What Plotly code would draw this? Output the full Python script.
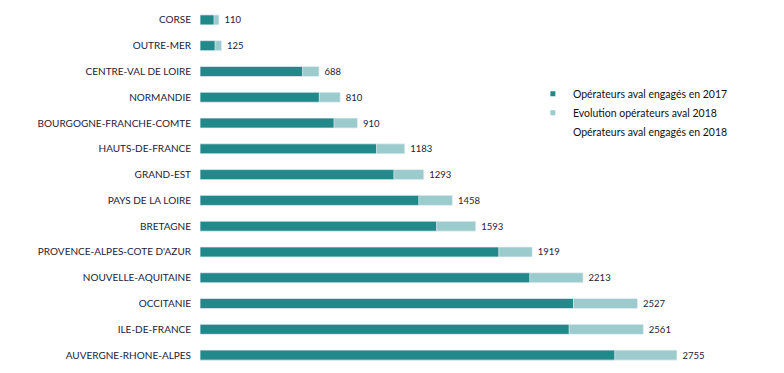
import plotly.graph_objects as go

regions = ["CORSE", "OUTRE-MER", "CENTRE-VAL DE LOIRE", "NORMANDIE",
           "BOURGOGNE-FRANCHE-COMTE", "HAUTS-DE-FRANCE", "GRAND-EST",
           "PAYS DE LA LOIRE", "BRETAGNE", "PROVENCE-ALPES-COTE D'AZUR",
           "NOUVELLE-AQUITAINE", "OCCITANIE", "ILE-DE-FRANCE",
           "AUVERGNE-RHONE-ALPES"]
ops_2017 = [81, 87, 593, 689, 774, 1020, 1120, 1264, 1367, 1726, 1905, 2157, 2132, 2396]
ops_2018 = [110, 125, 688, 810, 910, 1183, 1293, 1458, 1593, 1919, 2213, 2527, 2561, 2755]
evolution = [b - a for a, b in zip(ops_2017, ops_2018)]

DARK = "#22898b"
LIGHT = "#9bcbcc"
TXT = "#1c1c38"
FONT = "Lato"

fig = go.Figure()
fig.add_trace(go.Bar(y=regions, x=ops_2017, orientation="h", marker_color=DARK,
                     marker_line=dict(color="rgba(255,255,255,0.35)", width=1),
                     showlegend=False, hoverinfo="skip"))
fig.add_trace(go.Bar(y=regions, x=evolution, base=ops_2017, orientation="h",
                     marker_color=LIGHT,
                     marker_line=dict(color="rgba(255,255,255,0.35)", width=1),
                     showlegend=False, hoverinfo="skip"))
fig.add_trace(go.Bar(y=regions, x=ops_2018, orientation="h",
                     marker_color="rgba(0,0,0,0)", text=ops_2018,
                     texttemplate="\u00a0%{text}",
                     textposition="outside", cliponaxis=False,
                     constraintext="none",
                     textfont=dict(size=9.5, color=TXT, family=FONT),
                     showlegend=False, hoverinfo="skip"))

# legend entries
for name, col in [("Opérateurs aval engagés en 2017", DARK),
                  ("Evolution opérateurs aval 2018", LIGHT),
                  ("Opérateurs aval engagés en 2018", "rgba(0,0,0,0)")]:
    fig.add_trace(go.Scatter(x=[None], y=[None], mode="markers", name=name,
                             marker=dict(symbol="square", size=5, color=col)))

fig.update_layout(
    width=784, height=373,
    barmode="overlay", bargap=0.61,
    margin=dict(l=200, r=0, t=7, b=5),
    paper_bgcolor="white", plot_bgcolor="white",
    font=dict(family=FONT, size=10, color=TXT),
    xaxis=dict(range=[0, 3373], visible=False, fixedrange=True),
    yaxis=dict(categoryorder="array", categoryarray=regions, autorange="reversed",
               showgrid=False, zeroline=False, showline=False, ticks="outside",
               ticklen=6, tickcolor="rgba(0,0,0,0)", fixedrange=True,
               tickfont=dict(size=10, color=TXT, family=FONT)),
    legend=dict(x=0.570, y=0.80, xanchor="left", yanchor="top",
                font=dict(size=10.5, color="#111111", family=FONT),
                bgcolor="rgba(0,0,0,0)", tracegroupgap=0),
    showlegend=True,
)

fig.write_html("out.html", config={"displayModeBar": False},
               post_script="document.body.style.margin='0';")
